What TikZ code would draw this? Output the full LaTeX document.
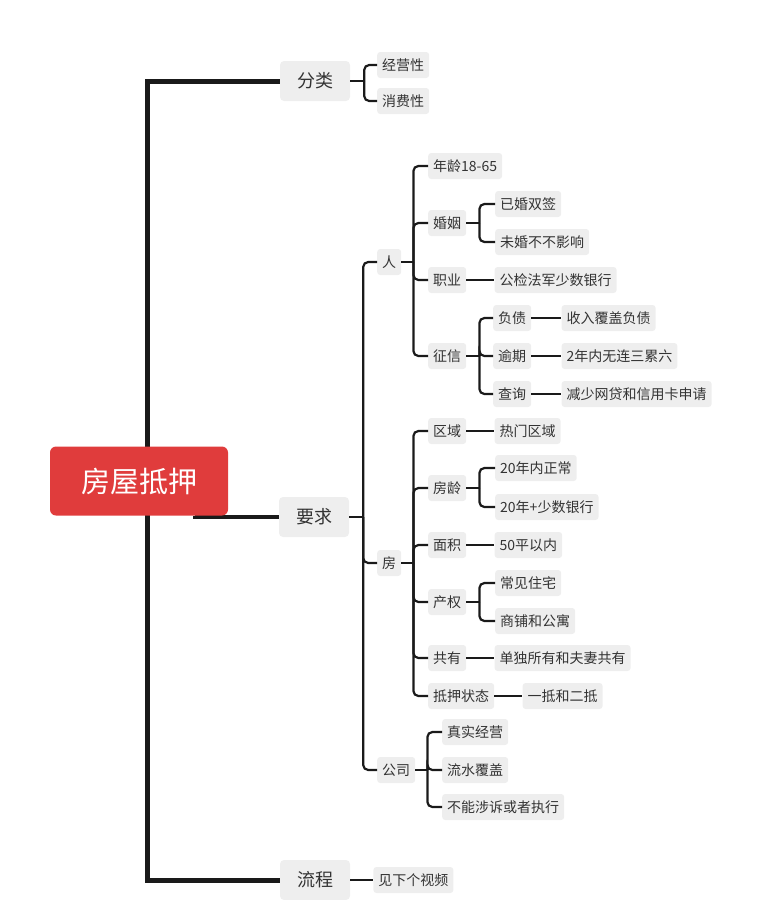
\documentclass[tikz,border=0pt]{standalone}
\usepackage{fontspec}
\newfontfamily\cjk{Noto Sans CJK SC}
\usepackage{tikz}
\usetikzlibrary{positioning}
\definecolor{boxgray}{HTML}{EEEEEE}
\definecolor{inkgray}{HTML}{333333}
\definecolor{rootred}{HTML}{E03C3C}
\definecolor{linkblack}{HTML}{1A1A1A}
\pgfdeclarelayer{back}
\pgfsetlayers{back,main}
\tikzset{
root/.style={
fill=rootred,
rounded corners=6pt,
text=white,
minimum width=178pt,
minimum height=69pt,
font=\cjk\fontsize{29}{32}\selectfont
},
topic/.style={
fill=boxgray,
rounded corners=4pt,
text=inkgray,
minimum width=70pt,
minimum height=40pt,
font=\cjk\fontsize{18}{20}\selectfont
},
leaf/.style={
fill=boxgray,
rounded corners=3pt,
text=inkgray,
inner xsep=5pt,
minimum height=26pt,
anchor=west,
font=\cjk\fontsize{14}{16}\selectfont
},
trunk/.style={
line width=5pt,
color=linkblack
},
link/.style={
line width=2.2pt,
color=linkblack
},
fork/.style={
link,
rounded corners=5pt
}
}

\begin{document}
\begin{tikzpicture}[x=1pt,y=-1pt,node distance=28pt]
\useasboundingbox (0,0) rectangle (762,900);
\node[root](root) at (139,481){房屋抵押};
\node[topic](fenlei) at (315,81){分类};
\node[topic](yaoqiu) at (314,517){要求};
\node[topic](liucheng) at (315,880){流程};

\node[leaf](jingying) at (377,65){经营性};
\node[leaf](xiaofei) at (377,101){消费性};
\node[leaf](ren) at (377,262){人};
\node[leaf](fang) at (377,563){房};
\node[leaf](gongsi) at (377,770){公司};
\node[leaf,right=23pt of liucheng](jianxia){见下个视频};

% ren
\node[leaf](nianling) at (428,166){年龄18-65};
\node[leaf](hunyin) at (428,223){婚姻};
\node[leaf](yihun) at (495,204){已婚双签};
\node[leaf](weihun) at (495,242){未婚不不影响};
\node[leaf](zhiye) at (428,280){职业};
\node[leaf,right=of zhiye](gongjian){公检法军少数银行};
\node[leaf](zhengxin) at (428,356){征信};
\node[leaf](fuzhai) at (493,318){负债};
\node[leaf](yuqi) at (493,356){逾期};
\node[leaf](chaxun) at (493,394){查询};
\node[leaf,right=30pt of fuzhai](shouru){收入覆盖负债};
\node[leaf,right=30pt of yuqi](liangnian){2年内无连三累六};
\node[leaf,right=30pt of chaxun](jianshao){减少网贷和信用卡申请};

% fang
\node[leaf](quyu) at (428,431){区域};
\node[leaf,right=of quyu](remen){热门区域};
\node[leaf](fangling) at (428,488){房龄};
\node[leaf](ershinei) at (495,468){20年内正常};
\node[leaf](ershiwai) at (495,507){20年+少数银行};
\node[leaf](mianji) at (428,545){面积};
\node[leaf,right=of mianji](wushi){50平以内};
\node[leaf](chanquan) at (428,602){产权};
\node[leaf](zhuzhai) at (495,583){常见住宅};
\node[leaf](shangpu) at (495,621){商铺和公寓};
\node[leaf](gongyou) at (428,658){共有};
\node[leaf,right=of gongyou](dandu){单独所有和夫妻共有};
\node[leaf](diya) at (428,696){抵押状态};
\node[leaf,right=of diya](yidi){一抵和二抵};

% gongsi
\node[leaf](zhenshi) at (442,732){真实经营};
\node[leaf](liushui) at (442,770){流水覆盖};
\node[leaf](buneng) at (442,807){不能涉诉或者执行};

\begin{pgfonlayer}{back}
\draw[trunk](fenlei.west) -- ++(-132,0) |- (liucheng.west);
\draw[line width=4pt,color=linkblack]([xshift=-33pt]root.south east) |- (yaoqiu.west);
\end{pgfonlayer}

% brackets
\draw[link](fenlei.east) -- ++(14,0) coordinate (flk);
\foreach \c in {jingying,xiaofei}
\draw[fork](flk) |- (\c.west);
\draw[link](yaoqiu.east) -- ++(14,0) coordinate (yqk);
\foreach \c in {ren,fang,gongsi}
\draw[fork](yqk) |- (\c.west);
\draw[link](ren.east) -- ++(12,0) coordinate (rk);
\foreach \c in {nianling,hunyin,zhiye,zhengxin}
\draw[fork](rk) |- (\c.west);
\draw[link](hunyin.east) -- ++(13,0) coordinate (hyk);
\foreach \c in {yihun,weihun}
\draw[fork](hyk) |- (\c.west);
\draw[link](zhengxin.east) -- ++(13,0) coordinate (zxk);
\foreach \c in {fuzhai,yuqi,chaxun}
\draw[fork](zxk) |- (\c.west);
\draw[link](fang.east) -- ++(12,0) coordinate (fk);
\foreach \c in {quyu,fangling,mianji,chanquan,gongyou,diya}
\draw[fork](fk) |- (\c.west);
\draw[link](fangling.east) -- ++(13,0) coordinate (flgk);
\foreach \c in {ershinei,ershiwai}
\draw[fork](flgk) |- (\c.west);
\draw[link](chanquan.east) -- ++(13,0) coordinate (cqk);
\foreach \c in {zhuzhai,shangpu}
\draw[fork](cqk) |- (\c.west);
\draw[link](gongsi.east) -- ++(12,0) coordinate (gsk);
\foreach \c in {zhenshi,liushui,buneng}
\draw[fork](gsk) |- (\c.west);

% single links
\foreach \x/\y in {zhiye/gongjian,fuzhai/shouru,yuqi/liangnian,chaxun/jianshao,quyu/remen,mianji/wushi,gongyou/dandu,diya/yidi,liucheng/jianxia}
\draw[link](\x)--(\y);
\end{tikzpicture}
\end{document}
